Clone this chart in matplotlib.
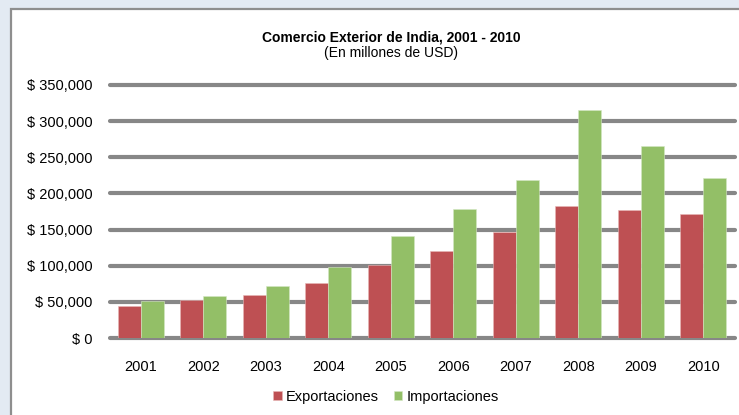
import matplotlib.pyplot as plt
from matplotlib.patches import Rectangle
from matplotlib.ticker import FuncFormatter
import numpy as np

plt.rcParams['font.family'] = ['Liberation Sans', 'DejaVu Sans']

years = ["2001", "2002", "2003", "2004", "2005", "2006", "2007", "2008", "2009", "2010"]
exportaciones = [44000, 52000, 59500, 76000, 100500, 121000, 146000, 182000, 176500, 172000]
importaciones = [51000, 57500, 71500, 98500, 141500, 178500, 219000, 315500, 266000, 221000]

red = "#BE5053"
green = "#93BF67"
grid_c = "#878787"

fig = plt.figure(figsize=(7.39, 4.15), dpi=100)
fig.patch.set_facecolor("#E3EAF3")

# white chart area with grey border (right and bottom run off the picture)
W, H = 739, 415
fig.patches.append(Rectangle((10.5 / W, -0.5), 2.0, 1.5 - 9.5 / H,
                             transform=fig.transFigure, facecolor="white",
                             edgecolor="#8E8E8E", linewidth=1.6, zorder=0))

ax = fig.add_axes([109.5 / W, (H - 338) / H, 625 / W, 253 / H])
ax.set_zorder(2)
ax.set_facecolor("none")

x = np.arange(len(years))
bw = 0.365
ax.bar(x - bw / 2, exportaciones, bw, color=red, edgecolor="#E8B8B8", linewidth=0.4,
       label="Exportaciones", zorder=3)
ax.bar(x + bw / 2, importaciones, bw, color=green, edgecolor="#D4E8C4", linewidth=0.4,
       label="Importaciones", zorder=3)

ticks = np.arange(0, 350001, 50000)
for t in ticks:
    ax.axhline(t, color=grid_c, linewidth=3, solid_capstyle="round", zorder=1, clip_on=False)

ax.set_xlim(-0.5, len(years) - 0.5)
ax.set_ylim(0, 350000)
ax.set_yticks(ticks)
ax.yaxis.set_major_formatter(FuncFormatter(lambda v, p: "$ {:,.0f}".format(v)))
ax.set_xticks(x)
ax.set_xticklabels(years)
ax.tick_params(axis="both", length=0, labelsize=10.5, colors="black")
ax.tick_params(axis="y", pad=12.5)
ax.tick_params(axis="x", pad=15.5)
for s in ax.spines.values():
    s.set_visible(False)

fig.text(391 / W, 1 - 38 / H, "Comercio Exterior de India, 2001 - 2010",
         ha="center", va="center", fontsize=10, fontweight="bold", zorder=3)
fig.text(391 / W, 1 - 53 / H, "(En millones de USD)",
         ha="center", va="center", fontsize=10, zorder=3)

leg = fig.legend(loc="center", bbox_to_anchor=(386 / W, 1 - 397 / H), ncol=2, frameon=False,
                 fontsize=10.5, handlelength=0.6, handleheight=0.6, handletextpad=0.3,
                 columnspacing=1.0)
leg.set_zorder(3)

fig.savefig("out.png", dpi=100, facecolor=fig.get_facecolor())
